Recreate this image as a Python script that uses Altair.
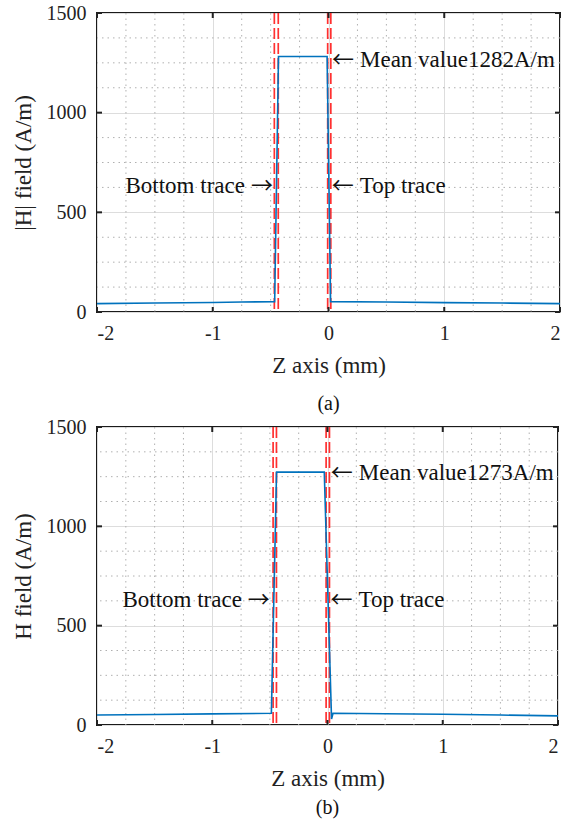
import altair as alt
import pandas as pd

# ---- panel (a): |H| field along Z ----
z_a = [-2.0, -1.5, -1.0, -0.75, -0.465, -0.432, -0.012, 0.018, 0.5, 1.0, 1.5, 2.0]
h_a = [42, 45, 48, 50, 52, 1282, 1282, 52, 50, 47, 45, 42]
bounds_a = [-0.468, -0.434, -0.007, 0.02]
note_text_a = ["Mean value1282A/m", "Bottom trace", "Top trace"]
note_z_a = [0.03, -0.48, 0.028]
note_h_a = [1265, 630, 630]

# ---- panel (b): H field along Z ----
z_b = [-2.0, -1.5, -1.0, -0.487, -0.442, -0.028, 0.035, 0.048, 0.5, 1.0, 1.5, 2.0]
h_b = [50, 53, 56, 59, 1273, 1273, 30, 59, 57, 54, 50, 46]
bounds_b = [-0.472, -0.443, -0.012, 0.017]
note_text_b = ["Mean value1273A/m", "Bottom trace", "Top trace"]
note_z_b = [0.029, -0.5, 0.026]
note_h_b = [1267, 628, 628]

# arrow glyph and side for each note (left-pointing arrows lead the text)
note_arrow = ["\u2190", "\u2192", "\u2190"]
note_align = ["left", "right", "left"]

# axis ticks and grid positions
x_major = [-2, -1, 0, 1, 2]
y_major = [0, 500, 1000, 1500]
x_minor = [-1.75, -1.5, -1.25, -0.75, -0.5, -0.25, 0.25, 0.5, 0.75, 1.25, 1.5, 1.75]
y_minor = [125, 250, 375, 625, 750, 875, 1125, 1250, 1375]

FONT = "Liberation Serif"
ARROW_FONT = "Noto Sans CJK JP"


def panel(z, h, bounds, note_text, note_z, note_h, ytitle, caption, w, hgt, cap_offset):
    xs = alt.X(
        "z:Q",
        scale=alt.Scale(domain=[-2, 2], nice=False, zero=False),
        axis=alt.Axis(values=x_major, title="Z axis (mm)", labelExpr="'' + datum.value"),
    )
    ys = alt.Y(
        "h:Q",
        scale=alt.Scale(domain=[0, 1500], nice=False, zero=False),
        axis=alt.Axis(values=y_major, title=ytitle, labelExpr="'' + datum.value"),
    )

    minor_x = alt.Chart(pd.DataFrame({"z": x_minor})).mark_rule(
        color="#b0b0b0", strokeWidth=1, strokeDash=[1.5, 4]
    ).encode(x=xs)
    minor_y = alt.Chart(pd.DataFrame({"h": y_minor})).mark_rule(
        color="#b0b0b0", strokeWidth=1, strokeDash=[1.5, 4]
    ).encode(y=ys)

    trace = alt.Chart(pd.DataFrame({"z": z, "h": h})).transform_window(
        idx="row_number()"
    ).mark_line(color="#0072BD", strokeWidth=1.6).encode(
        x=xs, y=ys, order=alt.Order("idx:Q")
    )

    edges = alt.Chart(pd.DataFrame({"z": bounds})).mark_rule(
        color="#ff1a1a", strokeWidth=1.7, strokeDash=[11, 4], opacity=0.9
    ).encode(x=xs)

    notes = alt.Chart(
        pd.DataFrame({"z": note_z, "h": note_h, "t": note_text,
                      "arr": note_arrow, "a": note_align})
    )
    txt = dict(baseline="middle", font=FONT, fontSize=23, color="#111")
    arr = dict(baseline="middle", font=ARROW_FONT, fontSize=22, color="#111")
    left_notes = notes.transform_filter("datum.a == 'left'")
    right_notes = notes.transform_filter("datum.a == 'right'")
    arrows_l = left_notes.mark_text(align="left", **arr).encode(x=xs, y=ys, text="arr:N")
    arrows_r = right_notes.mark_text(align="right", **arr).encode(x=xs, y=ys, text="arr:N")
    text_l = left_notes.mark_text(align="left", dx=28, **txt).encode(x=xs, y=ys, text="t:N")
    text_r = right_notes.mark_text(align="right", dx=-28, **txt).encode(x=xs, y=ys, text="t:N")

    xt = pd.DataFrame({"z": x_major})
    yt = pd.DataFrame({"h": y_major})
    tick_style = dict(color="#222", strokeWidth=2)
    ticks_b = alt.Chart(xt).mark_rule(**tick_style).encode(x=xs, y=alt.value(hgt), y2=alt.value(hgt - 5))
    ticks_t = alt.Chart(xt).mark_rule(**tick_style).encode(x=xs, y=alt.value(0), y2=alt.value(5))
    ticks_l = alt.Chart(yt).mark_rule(**tick_style).encode(y=ys, x=alt.value(0), x2=alt.value(5))
    ticks_r = alt.Chart(yt).mark_rule(**tick_style).encode(y=ys, x=alt.value(w), x2=alt.value(w - 5))

    return alt.layer(
        minor_x, minor_y, edges, trace, arrows_l, arrows_r, text_l, text_r,
        ticks_b, ticks_t, ticks_l, ticks_r,
    ).properties(
        width=w,
        height=hgt,
        title=alt.TitleParams(
            caption, orient="bottom", font=FONT, fontSize=20,
            fontWeight="normal", color="#111", offset=cap_offset,
        ),
    )


pa = panel(z_a, h_a, bounds_a, note_text_a, note_z_a, note_h_a,
           "|H| field (A/m)", "(a)", 463, 299, 17)
pb = panel(z_b, h_b, bounds_b, note_text_b, note_z_b, note_h_b,
           "H field (A/m)", "(b)", 461, 298, 8)

chart = alt.vconcat(pa, pb, spacing=1).properties(
    padding={"left": 11, "top": 2, "right": 10, "bottom": 5},
    background="white",
).configure_view(
    stroke="#1a1a1a", strokeWidth=2
).configure_axis(
    domain=False,
    ticks=False,
    grid=True,
    gridColor="#dddddd",
    gridWidth=1,
    labelFont=FONT,
    labelFontSize=20,
    labelColor="#222",
    labelPadding=11,
    titleFont=FONT,
    titleFontSize=23,
    titleFontWeight="normal",
    titleColor="#222",
    titlePadding=11,
)

chart.save("out.html", embed_options={"renderer": "svg", "actions": False})
